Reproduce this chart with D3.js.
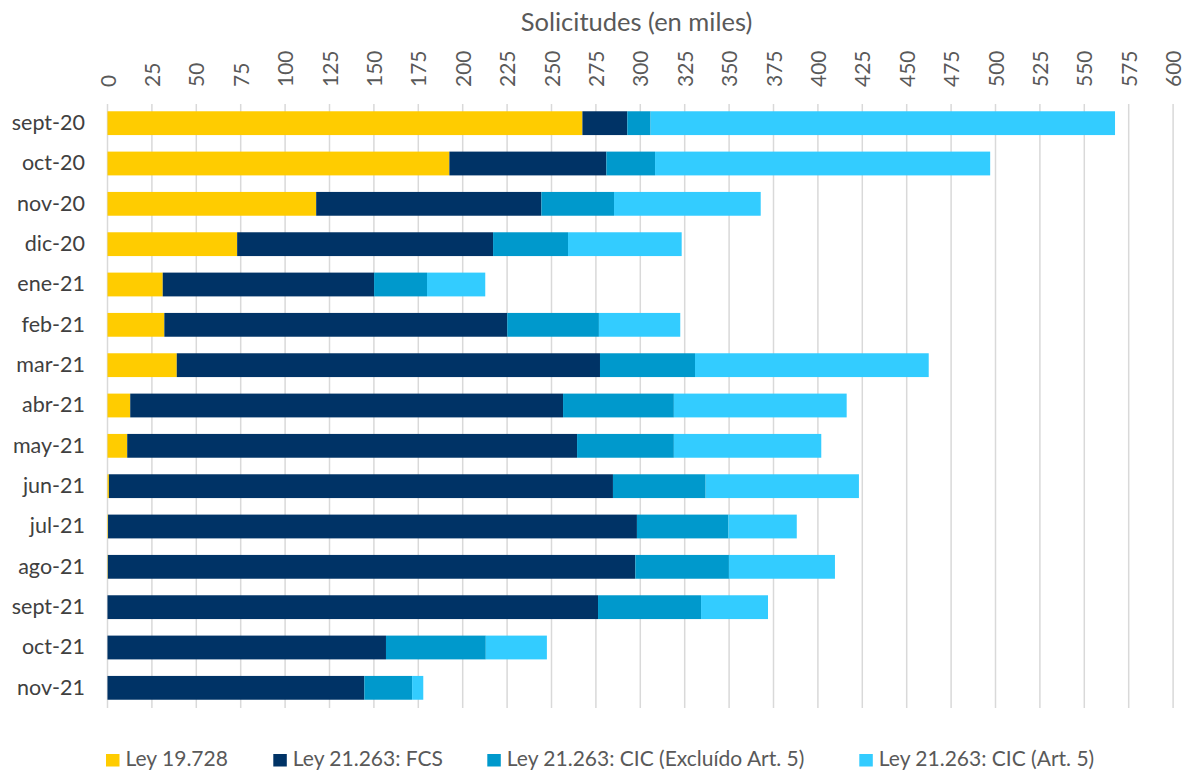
<!DOCTYPE html>
<html>
<head>
<meta charset="utf-8">
<script src="https://cdn.jsdelivr.net/npm/d3@7"></script>
<style>
  html, body { margin: 0; padding: 0; background: #fff; }
  svg { display: block; }
  text { font-family: Lato, "Open Sans", sans-serif; }
</style>
</head>
<body>
<script>
const categories = ["sept-20","oct-20","nov-20","dic-20","ene-21","feb-21","mar-21","abr-21","may-21","jun-21","jul-21","ago-21","sept-21","oct-21","nov-21"];
const seriesNames = ["Ley 19.728","Ley 21.263: FCS","Ley 21.263: CIC (Excluído Art. 5)","Ley 21.263: CIC (Art. 5)"];
const ley19728   = [267.4,192.5,117.5,73.0,31.1,32.0,39.0,12.8,11.1,0.8,0.3,0.2,0,0,0];
const fcs        = [25.3,88.4,126.8,144.1,119.0,193.1,238.3,243.7,253.3,283.8,297.8,297.0,276.2,156.8,144.6];
const cicExcl    = [13.1,27.4,40.9,42.2,29.8,51.6,53.5,62.4,54.5,52.2,51.5,52.7,58.0,56.2,26.9];
const cicArt5    = [261.5,188.7,82.6,64.0,32.8,45.8,131.6,97.3,83.0,86.3,38.5,59.7,37.7,34.4,6.3];
const tickValues = d3.range(0, 601, 25);
const colors = ["#FFCC00","#003366","#0099CC","#33CCFF"];
const title = "Solicitudes (en miles)";

const W = 1185, H = 771;
const svg = d3.select("body").append("svg").attr("width", W).attr("height", H);

const x = d3.scaleLinear().domain([0, 600]).range([107.5, 1173.1]);
const y = d3.scaleBand().domain(categories).range([103, 708]).paddingInner(0.41).paddingOuter(0.205);

const rows = categories.map((c, i) => ({cat: c, s0: ley19728[i], s1: fcs[i], s2: cicExcl[i], s3: cicArt5[i]}));
const keys = ["s0","s1","s2","s3"];
const stacked = d3.stack().keys(keys)(rows);

// gridlines
svg.append("g").selectAll("line").data(tickValues).join("line")
  .attr("x1", d => x(d)).attr("x2", d => x(d))
  .attr("y1", 104).attr("y2", 708)
  .attr("stroke", "#d9d9d9").attr("stroke-width", 1.5);

// top axis labels
const axis = d3.axisTop(x).tickValues(tickValues).tickSize(0).tickPadding(0);
const ga = svg.append("g").attr("transform", "translate(0,87)").call(axis);
ga.select(".domain").remove();
ga.selectAll("text")
  .attr("transform", "rotate(-90)")
  .attr("x", 0).attr("y", 0).attr("dy", "0.36em")
  .attr("text-anchor", "start")
  .attr("fill", "#595959")
  .style("font-size", "21px")
  .style("font-family", "Lato, sans-serif");

// title
svg.append("text").attr("x", 636.5).attr("y", 31).attr("text-anchor", "middle")
  .attr("fill", "#595959").style("font-size", "25.5px").text(title);

// bars
svg.append("g").selectAll("g").data(stacked).join("g")
  .attr("fill", (d, i) => colors[i])
  .selectAll("rect").data(d => d).join("rect")
  .attr("x", d => x(d[0]))
  .attr("width", d => Math.max(0, x(d[1]) - x(d[0])))
  .attr("y", d => y(d.data.cat))
  .attr("height", y.bandwidth());

// category axis
const gy = svg.append("g").attr("transform", "translate(85,0)")
  .call(d3.axisLeft(y).tickSize(0).tickPadding(0));
gy.select(".domain").remove();
gy.selectAll("text").attr("fill", "#404040")
  .style("font-size", "21.5px").style("font-family", "Lato, sans-serif");

// legend
const legendX = [106, 273.3, 487.3, 859.3];
const lg = svg.append("g").selectAll("g").data(seriesNames).join("g")
  .attr("transform", (d, i) => `translate(${legendX[i]},754)`);
lg.append("rect").attr("width", 13.5).attr("height", 12.5).attr("fill", (d, i) => colors[i]);
lg.append("text").attr("x", 19.5).attr("y", 12).attr("fill", "#595959")
  .style("font-size", "21px").text(d => d);
</script>
</body>
</html>
